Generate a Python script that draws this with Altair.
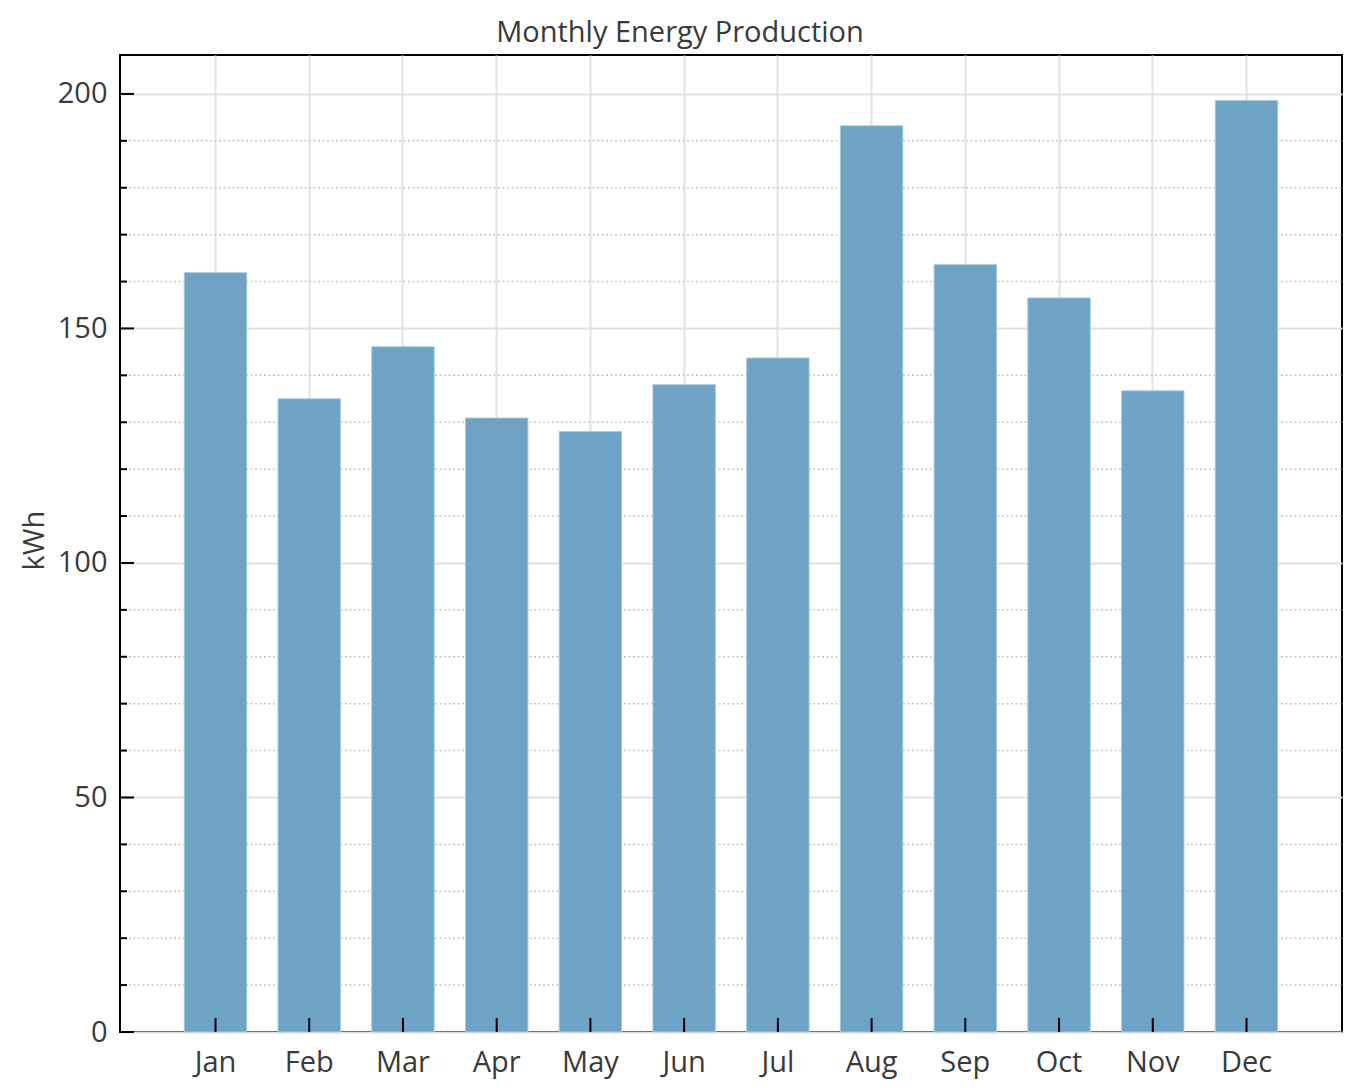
import altair as alt
import pandas as pd

months = ["Jan", "Feb", "Mar", "Apr", "May", "Jun", "Jul", "Aug", "Sep", "Oct", "Nov", "Dec"]
values = [161.9, 135.0, 146.1, 130.9, 128.0, 138.0, 143.7, 193.2, 163.6, 156.5, 136.7, 198.6]
major_ticks = [0, 50, 100, 150, 200]
minor_ticks = [10, 20, 30, 40, 60, 70, 80, 90, 110, 120, 130, 140, 160, 170, 180, 190]
y_max = 208.3

FONT = "Open Sans"
TXT = "#3a3a3a"
W, H = 1222, 977
FS = 29

bars_df = pd.DataFrame({"month": months, "kwh": values})
major_df = pd.DataFrame({"v": major_ticks})
minor_df = pd.DataFrame({"v": minor_ticks})

xscale = alt.Scale(domain=months, paddingInner=0.334, paddingOuter=0.686)
yscale = alt.Scale(domain=[0, y_max], nice=False, zero=True)

x_axis = alt.Axis(
    title=None, labelFont=FONT, labelFontSize=FS, labelColor=TXT, labelPadding=16,
    ticks=False, domain=False, grid=True, gridColor="#e2e2e2", gridWidth=2, labelAngle=0,
)
y_axis = alt.Axis(
    title="kWh", values=major_ticks, labelFont=FONT, labelFontSize=FS, labelColor=TXT,
    labelPadding=13, ticks=False, domain=False, grid=True, gridColor="#e2e2e2", gridWidth=2,
    titleFont=FONT, titleFontSize=FS, titleFontWeight="normal", titleColor=TXT,
    titleX=-71, titleY=485, titleAngle=270, titleAlign="center", titleBaseline="bottom",
)

minor_grid = alt.Chart(minor_df).mark_rule(color="#c8c8c8", strokeWidth=1.5, strokeDash=[2, 2.5]).encode(
    y=alt.Y("v:Q", scale=yscale, axis=y_axis),
    x=alt.value(0), x2=alt.value(W),
)

bars = alt.Chart(bars_df).mark_bar(color="#6ea3c5", stroke="#a8c8dc", strokeWidth=1).encode(
    x=alt.X("month:N", sort=months, scale=xscale, axis=x_axis),
    y=alt.Y("kwh:Q", scale=yscale, axis=y_axis),
)

x_ticks = alt.Chart(bars_df).mark_rule(color="black", strokeWidth=2).encode(
    x=alt.X("month:N", sort=months, scale=xscale, axis=x_axis),
    y=alt.value(H), y2=alt.value(H - 14),
)

y_major = alt.Chart(major_df).mark_rule(color="black", strokeWidth=2).encode(
    y=alt.Y("v:Q", scale=yscale, axis=y_axis),
    x=alt.value(0), x2=alt.value(14),
)

y_minor = alt.Chart(minor_df).mark_rule(color="black", strokeWidth=2).encode(
    y=alt.Y("v:Q", scale=yscale, axis=y_axis),
    x=alt.value(0), x2=alt.value(7),
)

chart = alt.layer(minor_grid, bars, x_ticks, y_major, y_minor).properties(
    width=W, height=H,
    title=alt.TitleParams(
        "Monthly Energy Production", font=FONT, fontSize=29, fontWeight="normal",
        color=TXT, anchor="middle", dx=-51, offset=7,
    ),
    autosize=alt.AutoSizeParams(type="none"),
    padding={"left": 112, "top": 47, "right": 1, "bottom": 48},
).configure(background="white").configure_view(stroke="black", strokeWidth=2)

chart.save("out.html", embed_options={"renderer": "svg", "actions": False})
